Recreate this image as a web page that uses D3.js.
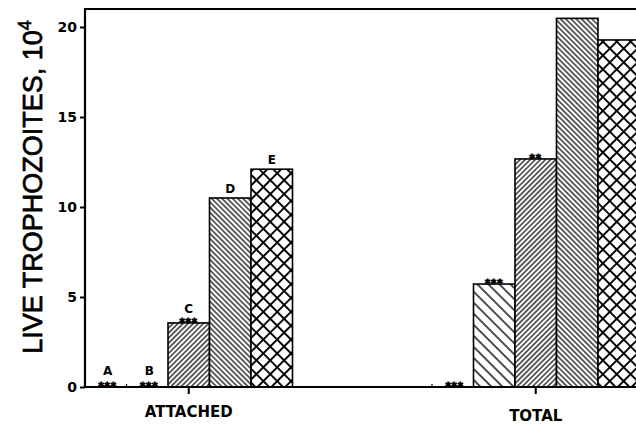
<!DOCTYPE html>
<html>
<head>
<meta charset="utf-8">
<script src="https://cdn.jsdelivr.net/npm/d3@7"></script>
<style>
  html, body { margin: 0; padding: 0; background: #fff; }
  svg { display: block; }
</style>
</head>
<body>
<svg id="chart" width="636" height="425"></svg>
<script>
// Live trophozoites (x10^4), attached vs. total, five conditions A–E
const groups = ["ATTACHED", "TOTAL"];
const seriesKeys = ["A", "B", "C", "D", "E"];
const attachedValues = [0, 0, 3.56, 10.5, 12.1];
const totalValues = [0, 5.72, 12.67, 20.48, 19.28];
const attachedStars = ["***", "***", "***", "", ""];
const totalStars = ["***", "***", "**", "", ""];
const yTicks = [0, 5, 10, 15, 20];

const svg = d3.select("#chart");
const W = 636, H = 425;
const plotLeft = 85, plotTop = 9, plotBottom = 387;

const y = d3.scaleLinear().domain([0, 21]).range([plotBottom, plotTop]);
const x0 = d3.scaleBand().domain(groups).range([plotLeft, 639.5])
  .paddingInner(0.402).paddingOuter(0).align(0);
const x1 = d3.scaleBand().domain(seriesKeys).range([0, x0.bandwidth()]);

// hatch patterns
const defs = svg.append("defs");
function lines(id, spacing, angle, width) {
  const p = defs.append("pattern").attr("id", id)
    .attr("patternUnits", "userSpaceOnUse")
    .attr("width", spacing).attr("height", spacing)
    .attr("patternTransform", `rotate(${angle})`);
  p.append("rect").attr("width", spacing).attr("height", spacing).attr("fill", "#fff");
  p.append("line").attr("x1", 0).attr("x2", spacing).attr("y1", spacing / 2).attr("y2", spacing / 2)
    .attr("stroke", "#000").attr("stroke-width", width);
}
lines("hB", 7.8, 45, 1.4);
lines("hC", 3.6, -45, 1.2);
lines("hD", 3.7, 45, 1.2);
const cs = 9.8;
const cp = defs.append("pattern").attr("id", "hE")
  .attr("patternUnits", "userSpaceOnUse").attr("width", cs).attr("height", cs)
  .attr("patternTransform", "rotate(45)");
cp.append("rect").attr("width", cs).attr("height", cs).attr("fill", "#fff");
cp.append("line").attr("x1", 0).attr("x2", cs).attr("y1", cs / 2).attr("y2", cs / 2).attr("stroke", "#000").attr("stroke-width", 1.9);
cp.append("line").attr("y1", 0).attr("y2", cs).attr("x1", cs / 2).attr("x2", cs / 2).attr("stroke", "#000").attr("stroke-width", 1.9);

const fills = { A: "#fff", B: "url(#hB)", C: "url(#hC)", D: "url(#hD)", E: "url(#hE)" };

const rows = [];
groups.forEach((g, gi) => {
  const vals = gi === 0 ? attachedValues : totalValues;
  const stars = gi === 0 ? attachedStars : totalStars;
  seriesKeys.forEach((k, i) => rows.push({ group: g, key: k, value: vals[i], stars: stars[i], labeled: gi === 0 }));
});
const cx = d => x0(d.group) + x1(d.key) + x1.bandwidth() / 2;

// frame: top line
svg.append("line").attr("x1", plotLeft - 1).attr("x2", W).attr("y1", plotTop).attr("y2", plotTop)
  .attr("stroke", "#000").attr("stroke-width", 2);

// bars
const bars = rows.filter(d => d.value > 0);
svg.append("g").selectAll("rect").data(bars).join("rect")
  .attr("x", d => x0(d.group) + x1(d.key))
  .attr("y", d => y(d.value))
  .attr("width", x1.bandwidth())
  .attr("height", d => y(0) - y(d.value))
  .attr("fill", d => fills[d.key])
  .attr("stroke", "#000").attr("stroke-width", 1.6);

// stubs at zero-height bars
svg.append("g").selectAll("line").data(rows.filter(d => d.value === 0)).join("line")
  .attr("x1", d => x0(d.group) + x1(d.key)).attr("x2", d => x0(d.group) + x1(d.key))
  .attr("y1", y(0) - 3).attr("y2", y(0))
  .attr("stroke", "#000").attr("stroke-width", 1.2);

// axes
const yAxis = d3.axisLeft(y).tickValues(yTicks).tickSize(5).tickPadding(3).tickFormat(d3.format("d"));
const ya = svg.append("g").attr("transform", `translate(${plotLeft},0)`).call(yAxis);
ya.select(".domain").remove();
ya.selectAll(".tick line").attr("stroke", "#000").attr("stroke-width", 2);
ya.selectAll(".tick text").attr("font-family", "DejaVu Sans").attr("font-weight", "bold")
  .attr("font-size", 14).attr("fill", "#000");
svg.append("line").attr("x1", plotLeft).attr("x2", plotLeft).attr("y1", plotTop - 1).attr("y2", plotBottom + 1)
  .attr("stroke", "#000").attr("stroke-width", 2.2);

const xAxis = d3.axisBottom(x0).tickSize(7).tickPadding(12).tickSizeOuter(0);
const xa = svg.append("g").attr("transform", `translate(0,${plotBottom})`).call(xAxis);
xa.select(".domain").remove();
xa.selectAll(".tick line").attr("stroke", "#000").attr("stroke-width", 2);
xa.selectAll(".tick text").attr("font-family", "DejaVu Sans").attr("font-weight", "bold")
  .attr("font-size", 15).attr("fill", "#000")
  .attr("y", (d, i) => i === 0 ? 30 : 34).attr("dy", null);
svg.append("line").attr("x1", plotLeft - 1).attr("x2", W).attr("y1", plotBottom).attr("y2", plotBottom)
  .attr("stroke", "#000").attr("stroke-width", 2.2);

// significance stars
svg.append("g").selectAll("text").data(rows.filter(d => d.stars)).join("text")
  .attr("x", d => cx(d) + (d.value === 0 ? 2 : 0))
  .attr("y", d => y(d.value) + 3)
  .attr("text-anchor", "middle")
  .attr("font-family", "DejaVu Sans").attr("font-weight", "bold").attr("font-size", 10)
  .attr("letter-spacing", 1)
  .attr("stroke", "#000").attr("stroke-width", 0.9)
  .text(d => d.stars);

// condition letters over the attached bars
svg.append("g").selectAll("text").data(rows.filter(d => d.labeled)).join("text")
  .attr("x", d => cx(d) + (d.value === 0 ? 2 : 0))
  .attr("y", d => y(d.value) - (d.value === 0 ? 12 : d.stars ? 10 : 5))
  .attr("text-anchor", "middle")
  .attr("font-family", "DejaVu Sans").attr("font-weight", "bold").attr("font-size", 12)
  .text(d => d.key);

// y axis title
const yt = svg.append("text")
  .attr("transform", `translate(42,187) rotate(-90)`)
  .attr("text-anchor", "middle")
  .attr("font-family", "Liberation Sans").attr("font-size", 27)
  .attr("fill", "#000").attr("stroke", "#000").attr("stroke-width", 0.7);
yt.append("tspan").text("LIVE TROPHOZOITES, 10");
yt.append("tspan").attr("font-size", 18).attr("dy", -11).text("4");
</script>
</body>
</html>
